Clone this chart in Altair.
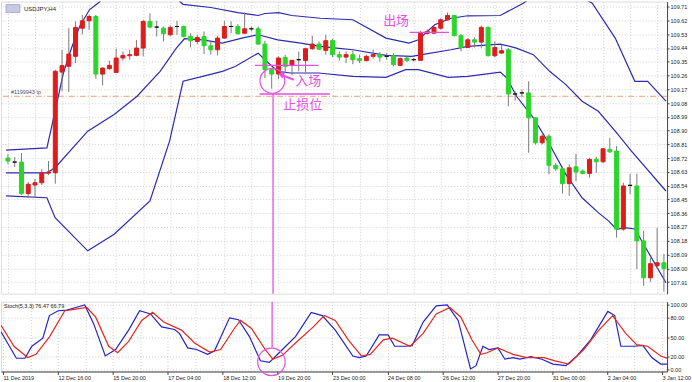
import altair as alt
import pandas as pd
import numpy as np

# ---------------- data ----------------
bar_k = list(range(98))
bar_open = [108.720,108.694,108.694,108.488,108.544,108.559,108.622,108.624,109.282,109.320,
            109.385,109.569,109.617,109.645,109.269,109.304,109.280,109.374,109.389,109.391,
            109.439,109.613,109.576,109.569,109.526,109.580,109.580,109.515,109.482,109.515,
            109.454,109.428,109.504,109.580,109.580,109.536,109.565,109.565,109.465,109.298,
            109.269,109.378,109.326,109.363,109.357,109.435,109.465,109.424,109.489,109.396,
            109.380,109.396,109.370,109.357,109.385,109.396,109.385,109.389,109.326,109.374,
            109.363,109.359,109.535,109.536,109.569,109.624,109.652,109.520,109.443,109.493,
            109.478,109.574,109.389,109.406,109.428,109.139,109.146,109.146,108.983,108.820,
            108.863,108.673,108.650,108.553,108.663,108.635,108.620,108.712,108.696,108.777,
            108.766,108.256,108.542,108.538,108.179,107.938,108.017,108.036]
bar_high = [108.746,108.727,108.753,108.564,108.583,108.648,108.701,109.298,109.428,109.569,
            109.613,109.656,109.656,109.656,109.313,109.357,109.435,109.417,109.428,109.493,
            109.624,109.667,109.617,109.580,109.587,109.617,109.587,109.536,109.526,109.548,
            109.482,109.520,109.617,109.613,109.595,109.671,109.580,109.580,109.487,109.308,
            109.385,109.396,109.363,109.417,109.439,109.520,109.482,109.526,109.500,109.417,
            109.417,109.422,109.396,109.396,109.428,109.413,109.406,109.406,109.378,109.385,
            109.374,109.552,109.561,109.587,109.634,109.671,109.656,109.530,109.504,109.508,
            109.587,109.580,109.482,109.461,109.439,109.157,109.168,109.222,108.987,108.875,
            108.875,108.689,108.657,108.679,108.748,108.647,108.722,108.727,108.787,108.852,
            108.798,108.559,108.618,108.618,108.245,108.069,108.264,108.095]
bar_low = [108.681,108.662,108.480,108.460,108.460,108.544,108.609,108.553,109.157,109.152,
           109.341,109.528,109.559,109.239,109.196,109.298,109.276,109.357,109.363,109.385,
           109.385,109.569,109.515,109.482,109.515,109.526,109.508,109.443,109.465,109.400,
           109.396,109.391,109.500,109.536,109.526,109.536,109.548,109.461,109.243,109.174,
           109.235,109.276,109.261,109.287,109.282,109.428,109.428,109.396,109.378,109.357,
           109.341,109.334,109.341,109.352,109.370,109.352,109.363,109.320,109.320,109.348,
           109.352,109.357,109.528,109.533,109.559,109.617,109.515,109.417,109.439,109.443,
           109.439,109.385,109.378,109.400,109.059,109.096,109.124,108.755,108.809,108.809,
           108.614,108.635,108.488,108.473,108.570,108.614,108.592,108.624,108.689,108.755,
           108.201,108.245,108.484,107.995,107.886,107.912,107.997,107.847]
bar_close = [108.701,108.694,108.488,108.549,108.559,108.624,108.629,109.287,109.324,109.400,
             109.574,109.617,109.645,109.269,109.308,109.326,109.374,109.391,109.396,109.439,
             109.613,109.576,109.576,109.533,109.574,109.580,109.515,109.487,109.508,109.454,
             109.428,109.504,109.580,109.580,109.533,109.565,109.565,109.465,109.298,109.269,
             109.374,109.320,109.359,109.363,109.435,109.465,109.432,109.487,109.396,109.380,
             109.396,109.363,109.357,109.385,109.396,109.380,109.385,109.331,109.370,109.359,
             109.363,109.536,109.548,109.574,109.624,109.652,109.520,109.443,109.493,109.478,
             109.574,109.389,109.443,109.422,109.139,109.139,109.146,108.983,108.820,108.863,
             108.673,108.650,108.553,108.657,108.629,108.620,108.712,108.696,108.781,108.761,
             108.256,108.538,108.542,108.179,107.938,108.030,108.036,107.997]

upper_k = [-0.29,5.76,6.97,8.2,9.4,10.6,12.05,13.3,15,18,21,24,25.9,30,34,37,38,40,42,46.2,51,
           55.9,59.3,60.7,63.1,65.5,68,72.8,76.2,79,83,86.4,89.8,92.7,94.6,97.3]
upper_v = [108.772,108.787,109.026,109.276,109.439,109.580,109.689,109.732,109.80,109.90,109.90,
           109.80,109.725,109.704,109.671,109.652,109.665,109.671,109.652,109.634,109.624,
           109.504,109.471,109.493,109.591,109.634,109.650,109.652,109.732,109.82,109.82,
           109.732,109.504,109.222,109.222,109.092]
mid_k = [-0.29,5.76,6.97,11.8,15.7,19.1,22.5,24.9,26.1,28.8,31.7,34.6,37,39.9,43.3,46.2,48.6,51,
         55.9,59.7,61.2,65.5,68,72.8,75.2,77.7,80.1,82.5,84.9,87.3,89.8,92.2,97.3]
mid_v = [108.624,108.624,108.657,108.896,109.005,109.124,109.287,109.439,109.500,109.493,109.471,
         109.504,109.526,109.493,109.471,109.450,109.439,109.428,109.391,109.385,109.396,109.428,
         109.450,109.465,109.439,109.396,109.287,109.200,109.092,109.026,108.896,108.766,108.505]
lower_k = [-0.29,5.76,6.97,11.8,15.7,21,23.9,25.9,28.8,31.7,33.6,37,38,39.9,41.8,45.9,51,55.9,
           58.8,60.7,65.1,68,72.8,73.8,75.2,77.7,80.1,82.5,84.9,87.3,88.8,90,91.2,92.7,97.3]
lower_v = [108.473,108.461,108.331,108.114,108.223,108.440,108.831,109.222,109.254,109.287,109.319,
           109.406,109.363,109.287,109.276,109.276,109.254,109.248,109.298,109.298,109.248,109.254,
           109.282,109.243,109.124,108.983,108.809,108.614,108.461,108.364,108.310,108.255,108.266,
           108.257,107.906]

stoch_main_k = [-0.29,1.95,3.2,4.2,5.8,6.76,8.04,9.3,10.6,11.9,13.2,14.9,16.4,18.3,19.9,21.5,23.1,
                25,25.7,26.9,28.2,29.8,30.8,33,34.3,35.9,37.5,38.8,40.7,42.6,44.9,46.5,48.4,50.96,
                51.9,52.9,54.8,56.1,57.05,58.6,59.6,61.2,63.1,64.7,66.3,68.1,68.9,69.9,70.8,72.1,
                73.1,74.3,75.3,76.9,78.5,80.1,82,83.6,85.6,88.1,89.1,90,92,93.2,94.5,95.8,96.8,97.7]
stoch_main_v = [58.5,17.5,17.5,36,48.5,83.5,91,92,96,100,71,21,31,61,91,86,66,62,56,33.5,31,23.5,
                28.5,80,77,51,13.5,11,31,51,88.5,83.5,61,21,18.5,21,53.5,53.5,36,36,37,73.5,98.5,
                100,76,1,6,36,31,33.5,16,18.5,16,20,16,8.5,6,21,46,90,83.5,36,36,37.5,18.5,8.5,
                8.5,16]
stoch_sig_k = [-0.29,1.6,3.6,4.8,6.8,9,10.6,12.2,13.5,15.4,16.7,18.3,20.2,21.8,23.4,26,27.9,30.1,
               31.7,33.7,34.6,36.2,38.2,39.3,40.7,42.6,45.2,46.8,48.4,50.3,52.2,53.5,55.4,56.7,59.3,
               61.2,63.1,65.1,66.7,68.3,69.6,70.5,72.1,74.3,76.3,78.8,80.4,82.4,84.6,86.8,88.8,
               90.7,92.3,93.9,95.8,97.7]
stoch_sig_v = [68.5,36,18.5,23.5,51,91,93.5,96,81,36,26,43.5,76,88.5,73.5,61,41,27,31,63.5,76,
               63.5,31,16,22,41,66,83.5,76,46,21,23.5,46,48.5,36,56,86,96,81,46,23.5,26,33.5,
               23.5,18.5,18.5,13.5,8.5,31,61,83.5,56,38.5,36,21,13.5]

price_ticks = [109.71,109.62,109.53,109.44,109.35,109.26,109.17,109.08,108.99,108.90,108.81,
               108.72,108.63,108.54,108.45,108.36,108.27,108.18,108.09,108.00,107.91]
stoch_ticks = [0, 20, 50, 80, 100]
time_labels = ["11 Dec 2019","12 Dec 16:00","15 Dec 20:00","17 Dec 04:00","18 Dec 12:00",
               "19 Dec 20:00","23 Dec 00:00","24 Dec 08:00","26 Dec 12:00","27 Dec 20:00",
               "31 Dec 00:00","2 Jan 04:00","3 Jan 12:00"]

tp_price = 109.124
seg_k1 = [36.5, 37.2, 59.4]          # entry line, stop-loss line, exit line
seg_k2 = [45.9, 47.6, 65.2]
seg_p = [109.326, 109.139, 109.541]
signal_k = 39.2
ellipse_k, ellipse_p = 39.1, 109.225
arrow_k = [42.27, 40.38]
arrow_p = [109.232, 109.266]
notes = ["入场", "止损位", "出场"]
note_k = [44.4, 43.6, 57.4]
note_p = [109.222, 109.069, 109.619]
stoch_circle_k, stoch_circle_v = 39.1, 12

# ---------------- styling ----------------
RED, GREEN, PINK = "#dd1c1c", "#2bd62b", "#e64ee6"
BAND, SBLUE, SRED = "#2b2bb0", "#2323c8", "#e8251e"
GRID = "#cfcfcf"
FONT = "Liberation Sans"
W, H1, H2 = 668, 293, 70
PMIN, PMAX = 107.834, 109.743

xscale = alt.Scale(domain=[-0.29, 96.73], nice=False, zero=False)
yscale = alt.Scale(domain=[PMIN, PMAX], nice=False, zero=False)
sscale = alt.Scale(domain=[-3, 105], nice=False, zero=False)
grid_k = list(range(0, 97, 4))

ax_x_main = alt.Axis(values=grid_k, labels=False, ticks=False, domain=False, grid=True,
                     gridColor=GRID, gridDash=[1, 2], title=None)
ax_y_main = alt.Axis(orient="right", values=price_ticks, format=".2f", labelFontSize=5.5,
                     labelFont=FONT, labelColor="#222", tickSize=2, tickColor="#444",
                     domainColor="#444", grid=True, gridColor=GRID, gridDash=[1, 2],
                     labelPadding=1, title=None, labelOverlap=False)
lab_js = "[" + ",".join("'" + t + "'" for t in time_labels) + "]"
ax_x_st = alt.Axis(values=grid_k,
                   labelExpr="datum.value % 8 == 0 ? " + lab_js + "[datum.value / 8] : ''",
                   labelAlign="left", labelFontSize=5.5, labelFont=FONT, labelColor="#222",
                   tickSize=3, tickColor="#444",
                   tickOpacity=alt.condition("datum.value % 8 == 0", alt.value(1), alt.value(0)),
                   domainColor="#444", labelPadding=1, grid=True, gridColor=GRID, gridDash=[1, 2],
                   title=None, labelOverlap=False, labelFlush=False)
ax_y_st = alt.Axis(orient="right", values=stoch_ticks, format=".2f", labelFontSize=5.5,
                   labelFont=FONT, labelColor="#222", tickSize=2, tickColor="#444",
                   domainColor="#444", grid=True, gridColor=GRID, gridDash=[1, 2],
                   labelPadding=1, title=None, labelOverlap=False)

def X(f):
    return alt.X(f, type="quantitative", scale=xscale, axis=ax_x_main)

def Y(f):
    return alt.Y(f, type="quantitative", scale=yscale, axis=ax_y_main)

def XS(f):
    return alt.X(f, type="quantitative", scale=xscale, axis=ax_x_st)

def YS(f):
    return alt.Y(f, type="quantitative", scale=sscale, axis=ax_y_st)

# ---------------- tables ----------------
bars = pd.DataFrame({"k": bar_k, "open": bar_open, "high": bar_high, "low": bar_low, "close": bar_close})
bars["dir"] = np.where(bars["close"] > bars["open"], "up",
                       np.where(bars["close"] < bars["open"], "down", "flat"))
bands = pd.concat([
    pd.DataFrame({"k": upper_k, "v": upper_v, "band": "upper"}),
    pd.DataFrame({"k": mid_k, "v": mid_v, "band": "middle"}),
    pd.DataFrame({"k": lower_k, "v": lower_v, "band": "lower"}),
])
stoch_main = pd.DataFrame({"k": stoch_main_k, "v": stoch_main_v})
stoch_sig = pd.DataFrame({"k": stoch_sig_k, "v": stoch_sig_v})
segs = pd.DataFrame({"k1": seg_k1, "k2": seg_k2, "p": seg_p})
vline = pd.DataFrame({"k": [signal_k], "p1": [seg_p[1]], "p2": [PMIN]})
tp = pd.DataFrame({"p": [tp_price], "k": [0.45], "t": ["#1199943 tp"]})
ell = pd.DataFrame({"k": [ellipse_k], "p": [ellipse_p]})
arrow = pd.DataFrame({"k": arrow_k, "p": arrow_p})
arrow_head = pd.DataFrame({"k": [arrow_k[1]], "p": [arrow_p[1]]})
note_df = pd.DataFrame({"k": note_k, "p": note_p, "t": notes})
scirc = pd.DataFrame({"k": [stoch_circle_k], "v": [stoch_circle_v]})
svline = pd.DataFrame({"k": [signal_k], "v1": [105], "v2": [34]})

dir_scale = alt.Scale(domain=["up", "down", "flat"], range=[RED, GREEN, "#111111"])

# ---------------- main panel ----------------
base = alt.Chart(bars)
grid_layer = base.mark_rule(opacity=0).encode(x=X("k"), y=Y("low"))
wicks = base.mark_rule(color="#7a7a7a", strokeWidth=1, clip=True).encode(x=X("k"), y=Y("low"), y2="high")
bodies = base.mark_bar(size=4, strokeWidth=1, clip=True).encode(
    x=X("k"), y=Y("open"), y2="close",
    color=alt.Color("dir:N", scale=dir_scale, legend=None),
    stroke=alt.Stroke("dir:N", scale=dir_scale, legend=None))
band_lines = alt.Chart(bands).mark_line(color=BAND, strokeWidth=1.2, clip=True).encode(
    x=X("k"), y=Y("v"), detail="band:N")
tp_line = alt.Chart(tp).mark_rule(color="#e8a070", strokeDash=[6, 2, 1, 2], strokeWidth=1).encode(y=Y("p"))
tp_text = alt.Chart(tp).mark_text(align="left", baseline="bottom", dy=-1, fontSize=5.5, font=FONT,
                                   color="#4a4a6a").encode(x=X("k"), y=Y("p"), text="t:N")
seg_lines = alt.Chart(segs).mark_rule(color=PINK, strokeWidth=1.3).encode(x=X("k1"), x2="k2", y=Y("p"))
v_line = alt.Chart(vline).mark_rule(color=PINK, strokeWidth=1.3).encode(x=X("k"), y=Y("p1"), y2="p2")
ellipse = alt.Chart(ell).mark_point(shape="circle", filled=False, size=620, color=PINK,
                                    strokeWidth=1.2, opacity=1).encode(x=X("k"), y=Y("p"))
arrow_line = alt.Chart(arrow).mark_line(color=PINK, strokeWidth=2).encode(x=X("k"), y=Y("p"))
arrow_tip = alt.Chart(arrow_head).mark_point(shape="triangle-up", filled=True, size=45, angle=293,
                                            color=PINK, opacity=1).encode(x=X("k"), y=Y("p"))
note_text = alt.Chart(note_df).mark_text(fontSize=13, font="Noto Sans CJK SC", color=PINK).encode(
    x=X("k"), y=Y("p"), text="t:N")
title_icon = alt.Chart(tp).mark_rect(color="#c9c9e6", stroke="#8080b0", strokeWidth=0.5).encode(
    x=alt.value(5), x2=alt.value(19), y=alt.value(3), y2=alt.value(11))
title_txt = alt.Chart(tp).mark_text(text="USDJPY,H4", align="left", baseline="middle", fontSize=6,
                                    font=FONT, color="#222").encode(x=alt.value(23), y=alt.value(7))

main = alt.layer(grid_layer, tp_line, band_lines, wicks, bodies, tp_text, seg_lines, v_line,
                 ellipse, arrow_line, arrow_tip, note_text, title_icon, title_txt).properties(
    width=W, height=H1)

# ---------------- stochastic panel ----------------
st_main = alt.Chart(stoch_main).mark_line(strokeWidth=1.2, clip=True, color=SBLUE).encode(
    x=XS("k"), y=YS("v"))
st_sig = alt.Chart(stoch_sig).mark_line(strokeWidth=1.2, clip=True, color=SRED).encode(
    x=XS("k"), y=YS("v"))
st_circle = alt.Chart(scirc).mark_point(shape="circle", filled=False, size=760, color=PINK,
                                        strokeWidth=1.2, opacity=1).encode(x=XS("k"), y=YS("v"))
st_vline = alt.Chart(svline).mark_rule(color=PINK, strokeWidth=1.3).encode(x=XS("k"), y=YS("v1"), y2="v2")
st_label = alt.Chart(tp).mark_text(text="Stoch(5,3,3) 76.47 66.79", align="left", baseline="top",
                                   fontSize=5.5, font=FONT, color="#222").encode(
    x=alt.value(3), y=alt.value(2))

stpanel = alt.layer(st_main, st_sig, st_vline, st_circle, st_label).properties(width=W, height=H2)

chart = alt.vconcat(main, stpanel, spacing=4).properties(padding=0).configure_view(
    stroke="#8a8a8a", strokeWidth=1).configure(background="white")

chart.save("out.html", embed_options={"renderer": "svg", "actions": False})
